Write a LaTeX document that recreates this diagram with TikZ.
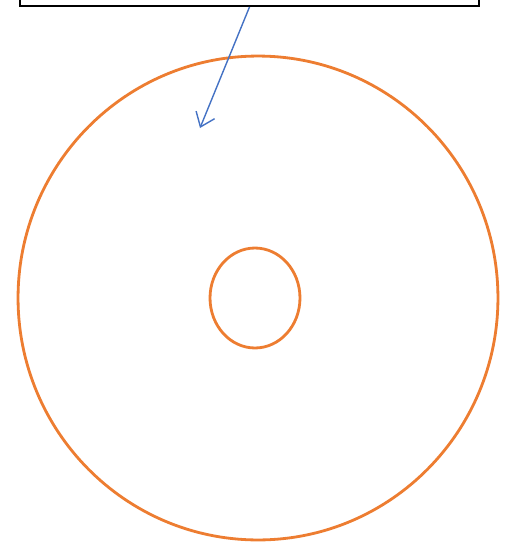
\documentclass[tikz,border=0pt]{standalone}
\usetikzlibrary{arrows.meta,shapes.geometric}
\definecolor{ringorange}{RGB}{237,125,49}
\definecolor{arrowblue}{RGB}{68,114,196}
\tikzset{
  ring/.style={draw=ringorange, line width=1.6pt, inner sep=0pt},
  pointer/.style={draw=arrowblue, line width=0.8pt, -{Straight Barb[length=2.6mm,width=4mm]}}
}
\begin{document}
\begin{tikzpicture}[x=0.02cm, y=-0.02cm]
      \useasboundingbox (0,0) rectangle (511,542);
      % label box, cut off at the top
      \node[draw, line width=1.1pt, minimum width=9.18cm, minimum height=0.8cm, inner sep=0pt] (box) at (249.5,-14) {};
      % disc
      \node[ring, ellipse, minimum width=9.6cm, minimum height=9.68cm] (outer) at (258,298) {};
      \node[ring, ellipse, minimum width=1.8cm, minimum height=2cm] (inner) at (255,298) {};
      % pointer into the disc
      \coordinate (tip) at (200,128);
      \draw[pointer] (box.south) -- (tip);
    \end{tikzpicture}
\end{document}
